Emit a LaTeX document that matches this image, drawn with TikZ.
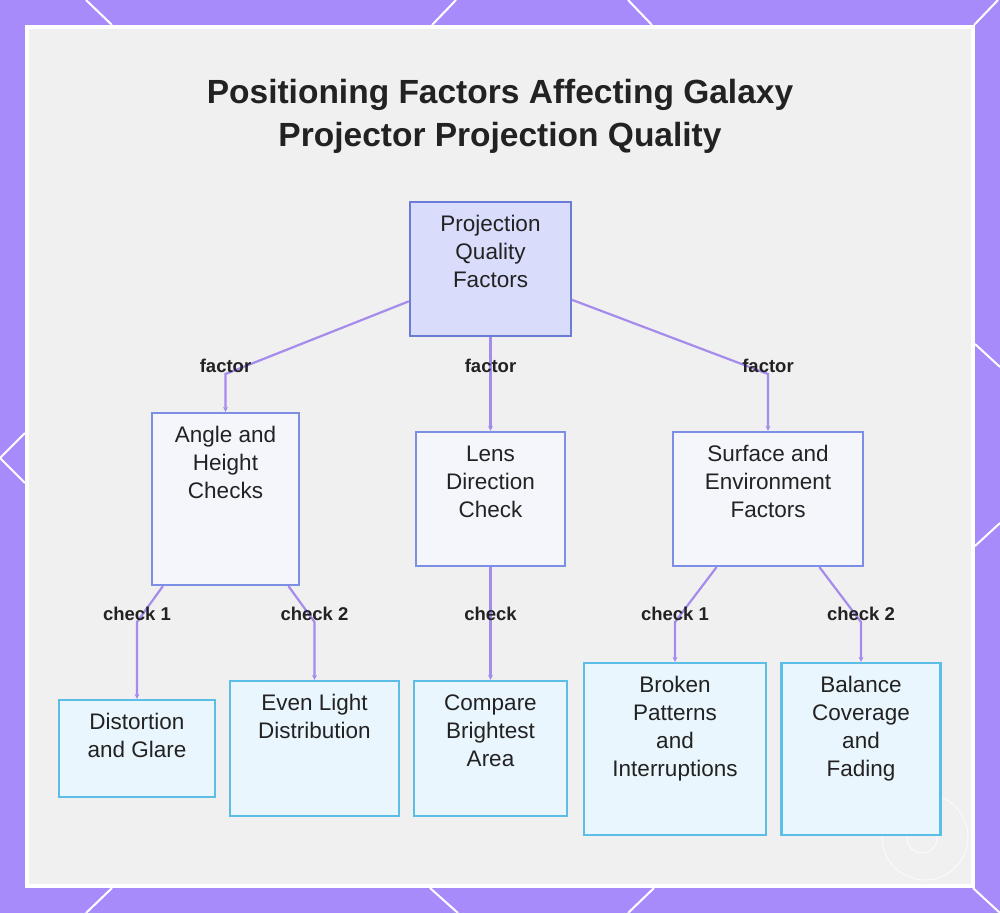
\documentclass[tikz,border=0pt]{standalone}
\usepackage{fontspec}
\setmainfont{Liberation Sans}
\usetikzlibrary{arrows.meta, positioning, calc}
\definecolor{framepurple}{RGB}{168,139,250}
\definecolor{panelgrey}{RGB}{240,240,241}
\definecolor{rootfill}{RGB}{217,220,250}
\definecolor{rootline}{RGB}{108,124,214}
\definecolor{midfill}{RGB}{244,246,252}
\definecolor{midline}{RGB}{125,143,228}
\definecolor{leaffill}{RGB}{234,246,253}
\definecolor{leafline}{RGB}{90,190,230}
\definecolor{linkpurple}{RGB}{165,140,236}
\definecolor{inktext}{RGB}{34,34,34}
\tikzset{
  basebox/.style 2 args={
    rectangle, inner sep=0pt, line width=2.2pt, text=inktext,
    font=\fontsize{22.5}{28}\selectfont,
    execute at begin node={\begin{minipage}[c][#2][t]{#1}\centering\rule{0pt}{29pt}},
    execute at end node={\end{minipage}}
  },
  rootbox/.style 2 args={basebox={#1}{#2}, draw=rootline, fill=rootfill},
  midbox/.style 2 args={basebox={#1}{#2}, draw=midline, fill=midfill},
  leafbox/.style 2 args={basebox={#1}{#2}, draw=leafline, fill=leaffill},
  link/.style={-{Stealth[length=5pt,width=5pt]}, line width=2.2pt, color=linkpurple},
  linklabel/.style={anchor=base, inner sep=0pt, text=inktext, font=\fontsize{18.5}{22}\selectfont\bfseries},
  titletext/.style={anchor=north, align=center, inner sep=0pt, text=inktext, font=\fontsize{33.5}{43}\selectfont\bfseries},
  deco/.style={white, line width=2pt}
}

\begin{document}
\begin{tikzpicture}[x=1pt, y=-1pt]
  \useasboundingbox (0,0) rectangle (1000,913);
  % frame and panel
  \fill[framepurple] (0,0) rectangle (1000,913);
  \draw[deco] (86,0) -- (112,25);
  \draw[deco] (456,0) -- (432,25);
  \draw[deco] (628,0) -- (652,25);
  \draw[deco] (998,0) -- (974,25);
  \draw[deco] (25,433) -- (0,458) -- (25,483);
  \draw[deco] (975,344) -- (1000,367);
  \draw[deco] (975,546) -- (1000,523);
  \draw[deco] (112,888) -- (86,913);
  \draw[deco] (430,888) -- (458,913);
  \draw[deco] (654,888) -- (628,913);
  \draw[deco] (973,888) -- (1000,913);
  \fill[white] (25,25) rectangle (975,888);
  \fill[panelgrey] (29,29) rectangle (971,884);
  \draw[white, opacity=.7, line width=1pt] (925,837) circle[radius=43pt];
  \draw[white, opacity=.7, line width=1pt] (922,838) circle[radius=15pt];

  \node[titletext] (title) at (500,79.5)
        {Positioning Factors Affecting Galaxy\\Projector Projection Quality};

  % boxes
  \node[rootbox={161pt}{134pt}] (quality) at (490.5,269) {Projection\\Quality\\Factors};
  \node[midbox={147pt}{172pt}] (angle) at (225.5,499) {Angle and\\Height\\Checks};
  \node[midbox={149pt}{134pt}] (lens) at (490.5,499) {Lens\\Direction\\Check};
  \node[midbox={190pt}{134pt}] (surface) at (768,499) {Surface and\\Environment\\Factors};
  \node[leafbox={156pt}{97pt}] (distort) at (137,748.5) {Distortion\\and Glare};
  \node[leafbox={169pt}{135pt}] (even) at (314.5,748.5) {Even Light\\Distribution};
  \node[leafbox={153pt}{135pt}] (compare) at (490.5,748.5) {Compare\\Brightest\\Area};
  \node[leafbox={182pt}{172pt}] (broken) at (675,749) {Broken\\Patterns\\and\\Interruptions};
  \node[leafbox={159pt}{172pt}] (balance) at (861,749) {Balance\\Coverage\\and\\Fading};

  % bends
  \coordinate (f1) at (angle.north |- 0,374);
  \coordinate (f2) at (lens.north |- 0,374);
  \coordinate (f3) at (surface.north |- 0,374);
  \coordinate (c1) at (distort.north |- 0,622);
  \coordinate (c2) at (even.north |- 0,622);
  \coordinate (c3) at (compare.north |- 0,622);
  \coordinate (c4) at (broken.north |- 0,622);
  \coordinate (c5) at (balance.north |- 0,622);

  \draw[link] (quality) -- (f1) -- (angle);
  \draw[link] (quality) -- (f2) -- (lens);
  \draw[link] (quality) -- (f3) -- (surface);
  \draw[link] (angle) -- (c1) -- (distort);
  \draw[link] (angle) -- (c2) -- (even);
  \draw[link] (lens) -- (c3) -- (compare);
  \draw[link] (surface) -- (c4) -- (broken);
  \draw[link] (surface) -- (c5) -- (balance);

  \node[linklabel] at ([yshift=2pt]f1) {factor};
  \node[linklabel] at ([yshift=2pt]f2) {factor};
  \node[linklabel] at ([yshift=2pt]f3) {factor};
  \node[linklabel] at ([yshift=1.5pt]c1) {check 1};
  \node[linklabel] at ([yshift=1.5pt]c2) {check 2};
  \node[linklabel] at ([yshift=1.5pt]c3) {check};
  \node[linklabel] at ([yshift=1.5pt]c4) {check 1};
  \node[linklabel] at ([yshift=1.5pt]c5) {check 2};
\end{tikzpicture}
\end{document}
